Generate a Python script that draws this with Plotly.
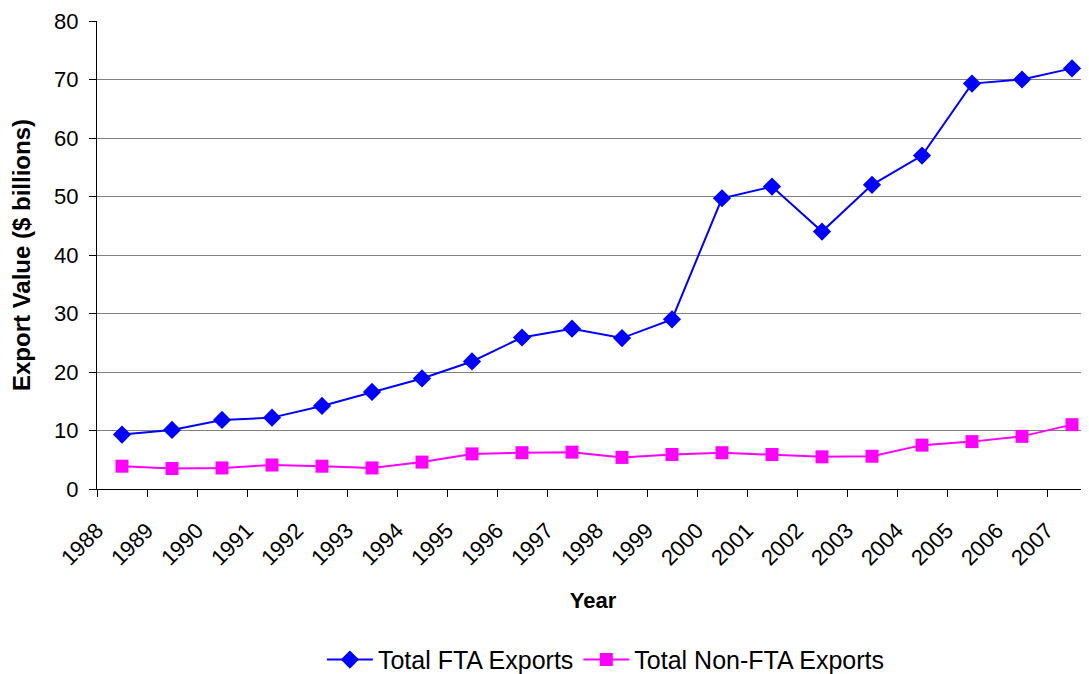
import plotly.graph_objects as go

years = list(range(1988, 2008))
year_labels = [str(y) for y in years]
fta_exports = [9.3, 10.1, 11.8, 12.2, 14.2, 16.6, 18.9, 21.8, 25.9, 27.4,
               25.8, 29.0, 49.7, 51.7, 44.0, 52.0, 57.0, 69.3, 70.0, 71.9]
non_fta_exports = [3.9, 3.5, 3.6, 4.1, 3.9, 3.6, 4.6, 6.0, 6.2, 6.3,
                   5.4, 5.9, 6.2, 5.9, 5.5, 5.6, 7.5, 8.1, 9.0, 11.0]
y_ticks = [0, 10, 20, 30, 40, 50, 60, 70, 80]

FONT = "Liberation Sans, Arial, sans-serif"
FS = 22

# category boundaries (Excel style: ticks and labels sit between categories)
boundaries = [y - 0.5 for y in years]

fig = go.Figure()
fig.add_trace(go.Scatter(
    x=years, y=fta_exports, name="Total FTA Exports", mode="lines+markers",
    line=dict(color="#0000FF", width=2),
    marker=dict(symbol="diamond", size=14, color="#0000FF"),
))
fig.add_trace(go.Scatter(
    x=years, y=non_fta_exports, name="Total Non-FTA Exports", mode="lines+markers",
    line=dict(color="#FF00FF", width=2),
    marker=dict(symbol="square", size=13, color="#FF00FF"),
))

fig.update_layout(
    width=1081, height=666,
    margin=dict(l=89, r=0, t=13, b=185, autoexpand=False),
    paper_bgcolor="white", plot_bgcolor="white",
    font=dict(family=FONT, size=FS, color="black"),
    showlegend=True,
    legend=dict(orientation="h", x=0.513, xanchor="center", y=-0.365, yanchor="middle",
                font=dict(size=25), itemwidth=46),
    xaxis=dict(
        range=[1987.5, 1987.5 + 992 / 50], tickvals=boundaries, ticktext=year_labels,
        ticks="outside", ticklen=7, tickcolor="black", tickwidth=1,
        tickangle=-45, showgrid=False, showline=True, linecolor="black", linewidth=1,
        zeroline=False, automargin=False, ticklabelstandoff=12,
        tickfont=dict(size=FS),
        title=dict(text="<b>Year</b>", font=dict(size=FS), standoff=23),
    ),
    yaxis=dict(
        range=[0, 80], tickvals=y_ticks, ticks="outside", ticklen=7,
        tickcolor="black", showgrid=True, gridcolor="#808080", gridwidth=1,
        showline=True, linecolor="black", linewidth=1, zeroline=False,
        automargin=False, ticklabelstandoff=6,
        tickfont=dict(size=FS),
        title=dict(text="<b>Export Value ($ billions)</b>", font=dict(size=24), standoff=16),
    ),
)

fig.write_html("out.html")
